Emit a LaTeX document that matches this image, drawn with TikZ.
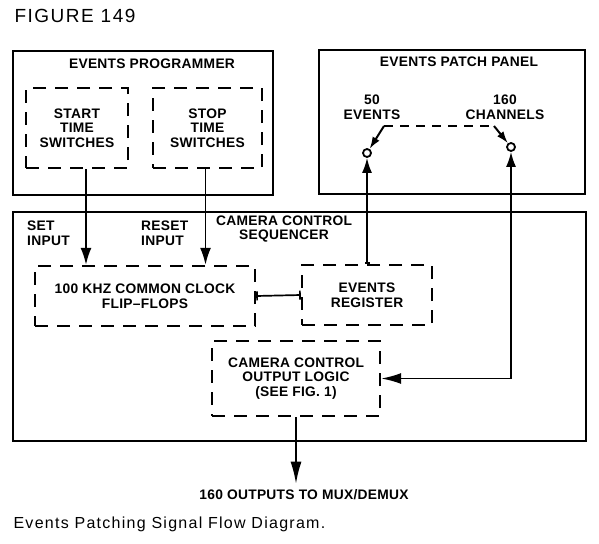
\documentclass[tikz,border=0pt]{standalone}
\usepackage{fontspec}
\setmainfont{Liberation Sans}
\newfontfamily\lblfont[LetterSpace=2]{Liberation Sans}
\newfontfamily\ttlfont[LetterSpace=8]{Liberation Sans}
\usetikzlibrary{arrows.meta,positioning,calc}

\begin{document}
\begin{tikzpicture}[
            x=1pt, y=-1pt,
            every node/.style={font=\lblfont\bfseries\fontsize{13.8}{14.5}\selectfont},
            outer/.style={draw, line width=2.2pt, inner sep=0pt},
            dbox/.style={draw, line width=2.4pt, dash pattern=on 13pt off 9pt, inner sep=0pt, align=center},
            lbl/.style={align=center, inner sep=0pt},
            arr/.style={line width=1.7pt, -{Latex[length=17pt,width=11pt]}},
            swarm/.style={line width=2pt, -{Latex[length=12pt,width=8pt]}},
            sw/.style={circle, draw, line width=1.8pt, fill=white, inner sep=0pt, minimum size=8pt},
        ]
            \useasboundingbox (0,0) rectangle (599,543);

            \node[font=\ttlfont\fontsize{19}{19}\selectfont, anchor=west] (title) at (11,16) {FIGURE 149};

            \node[outer, minimum width=260pt, minimum height=144pt] (prog) at (143,123) {};
            \node[outer, minimum width=266pt, minimum height=144pt] (patch) at (452,122) {};
            \node[outer, minimum width=573pt, minimum height=229pt] (seq) at (299.5,326.5) {};

            \node[lbl] (progtitle) at (152,64) {EVENTS PROGRAMMER};
            \node[lbl] (patchtitle) at (459,62) {EVENTS PATCH PANEL};
            \node[lbl] (seqtitle) at (284,229) {CAMERA CONTROL\\SEQUENCER};

            \node[dbox, minimum width=102pt, minimum height=80pt] (start) at (77,128) {START\\TIME\\SWITCHES};
            \node[dbox, minimum width=109pt, minimum height=80pt] (stop) at (207.5,128) {STOP\\TIME\\SWITCHES};
            \node[dbox, minimum width=220pt, minimum height=60pt] (clock) at (145,296) {100 KHZ COMMON CLOCK\\FLIP\textendash FLOPS};
            \node[dbox, minimum width=130pt, minimum height=60pt] (reg) at (367,295) {EVENTS\\REGISTER};
            \node[dbox, minimum width=168pt, minimum height=75pt] (logic) at (296,378.5) {CAMERA CONTROL\\OUTPUT LOGIC\\(SEE FIG. 1)};

            \node[lbl, align=left, anchor=north west] (setin) at (27,221) {SET\\INPUT};
            \node[lbl, align=left, anchor=north west] (resetin) at (141,221) {RESET\\INPUT};

            \node[lbl] (events) at (372,107) {50\\EVENTS};
            \node[lbl] (channels) at (505,107) {160\\CHANNELS};

            \node[sw] (sw1) at (367,153) {};
            \node[sw] (sw2) at (511,147) {};
            \coordinate (arm1) at (384,126);
            \coordinate (arm2) at (494,126);

            \draw[line width=2.2pt, dash pattern=on 9pt off 7pt] (arm1) -- (arm2);
            \draw[swarm] (arm1) -- (sw1);
            \draw[swarm] (arm2) -- (sw2);

            \draw[arr] ([xshift=9pt]start.south) -- ([xshift=9pt]start.south |- clock.north);
            \draw[arr] ([xshift=-2pt]stop.south) -- ([xshift=-2pt]stop.south |- clock.north);
            \draw[line width=1.7pt, {Bar[width=9pt]}-{Bar[width=9pt]}] (clock.east) -- (reg.west);
            \draw[arr, {Bar[width=5pt]}-{Latex[length=15pt,width=10pt]}] (reg.north) -- (sw1.south);
            \draw[arr, {Latex[length=20pt,width=11pt]}-{Latex[length=15pt,width=10pt]}] (logic.east) -| (sw2.south);

            \node[lbl] (outputs) at (304,495) {160 OUTPUTS TO MUX/DEMUX};
            \draw[arr, -{Latex[length=22pt,width=11pt]}] (logic.south) -- ([yshift=6pt]logic.south |- outputs.north);

            \node[font=\ttlfont\fontsize{16}{16}\selectfont, anchor=west] (caption) at (10,524) {Events Patching Signal Flow Diagram.};
        \end{tikzpicture}
\end{document}
